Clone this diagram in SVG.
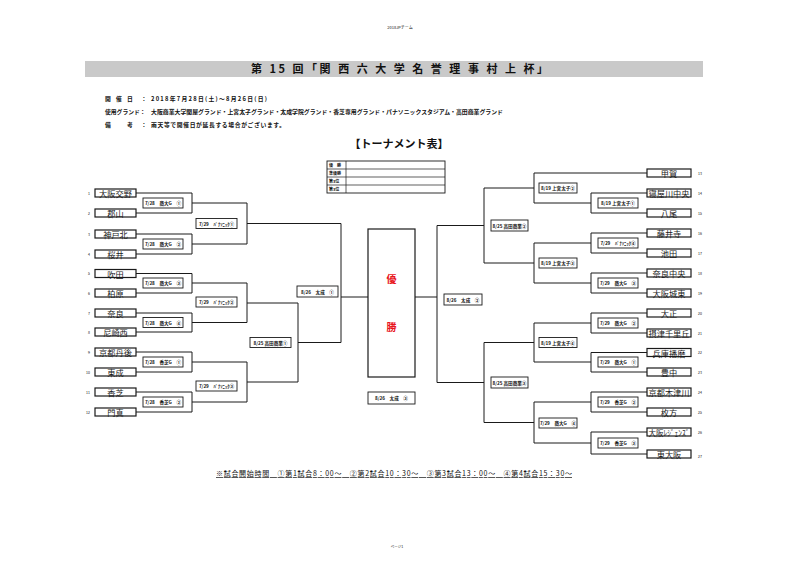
<svg xmlns="http://www.w3.org/2000/svg" width="800" height="564" viewBox="0 0 800 564">
<style>
text{font-family:"Noto Sans CJK JP","Noto Sans",sans-serif;fill:#111}
.b{font-weight:700}
.team rect{fill:#fff;stroke:#1a1a1a;stroke-width:1.2}
.team text{font-size:8.2px;text-anchor:middle;dominant-baseline:central;fill:#1a1a1a}
.num{font-size:3.5px;fill:#333;dominant-baseline:central}
.lbl rect{fill:#fff;stroke:#1a1a1a;stroke-width:0.9}
.lbl text{font-size:4.6px;text-anchor:middle;dominant-baseline:central;font-weight:700}
#connectors path{fill:none;stroke:#1a1a1a;stroke-width:1}
.info{font-size:5.8px;font-weight:700}
.res text{font-size:4px;font-weight:700;dominant-baseline:central}
</style>
<rect width="800" height="564" fill="#fff"/>

<text x="400" y="29" font-size="4" text-anchor="middle" fill="#444">2018JPチーム</text>
<rect x="85" y="61" width="618" height="16" fill="#c9c9c9"/>
<text class="b" x="251" y="73" font-size="11" textLength="297" lengthAdjust="spacing">第 15 回「関 西 六 大 学 名 誉 理 事 村 上 杯」</text>

<g class="info">
<text x="105" y="101">開</text><text x="116" y="101">催</text><text x="127" y="101">日</text><text x="141" y="101">：</text>
<text x="151" y="101" textLength="116" lengthAdjust="spacing">2018年7月28日(土)～8月26日(日)</text>
<text x="105" y="114">使用グランド：</text>
<text x="151" y="114" textLength="352" lengthAdjust="spacingAndGlyphs">大阪商業大学関屋グランド・上宮太子グランド・太成学院グランド・香芝専用グランド・パナソニックスタジアム・高田商業グランド</text>
<text x="105" y="127">備</text><text x="127" y="127">考</text><text x="141" y="127">：</text>
<text x="151" y="127" textLength="134" lengthAdjust="spacing">雨天等で開催日が延長する場合がございます。</text>
</g>

<text class="b" x="399" y="148" font-size="11" text-anchor="middle">【トーナメント表】</text>

<g id="results" class="res">
<rect x="327" y="161" width="118" height="32" fill="#fff" stroke="#1a1a1a" stroke-width="0.9"/>
<path d="M327 169H445M327 177H445M327 185H445M346 161V193" stroke="#1a1a1a" stroke-width="0.7" fill="none"/>
<text x="329" y="165">優　勝</text>
<text x="329" y="173">準優勝</text>
<text x="329" y="181">第3位</text>
<text x="329" y="189">第3位</text>
</g>

<g id="connectors">
<path d="M136 193H192V213H136M192 203H247"/>
<path d="M136 234H192V254H136M192 244H247"/>
<path d="M136 273.5H192V293H136M192 283H247"/>
<path d="M136 313H192V332H136M192 322.5H247"/>
<path d="M136 352H192V372H136M192 362H247"/>
<path d="M136 392H192V412H136M192 402H247"/>
<path d="M247 203V244M247 223.5H341"/>
<path d="M247 283V322.5M247 303H298"/>
<path d="M247 362V402M247 382H298"/>
<path d="M298 303V382M298 342.5H341"/>
<path d="M341 223.5V342.5M341 297H368"/>
<path d="M647 173H534"/>
<path d="M647 193H591V213H647M591 203H534"/>
<path d="M647 233H591V253H647M591 243H534"/>
<path d="M647 273H591V293H647M591 283H534"/>
<path d="M647 313H591V333H647M591 323H534"/>
<path d="M647 352.5H591V372H647M591 362H534"/>
<path d="M647 392H591V412H647M591 402H534"/>
<path d="M647 432H591V454H647M591 443H534"/>
<path d="M534 173V203M534 188H484"/>
<path d="M534 243V283M534 263H484"/>
<path d="M534 323V362M534 342.5H484"/>
<path d="M534 402V443M534 422.5H484"/>
<path d="M484 188V263M484 225.5H437"/>
<path d="M484 342.5V422.5M484 382.5H437"/>
<path d="M437 225.5V382.5M437 297H415"/>
</g>

<g id="champion">
<rect x="368" y="229" width="47" height="148" fill="#fff" stroke="#1a1a1a" stroke-width="1.2"/>
<text x="391.5" y="283" font-size="10" font-weight="700" text-anchor="middle" style="fill:#e8141b">優</text>
<text x="391.5" y="331" font-size="10" font-weight="700" text-anchor="middle" style="fill:#e8141b">勝</text>
</g>

<g id="team1" class="team"><rect x="95" y="189" width="41" height="8"/><text x="115.5" y="193">大阪交野</text></g>
<g id="team2" class="team"><rect x="95" y="209" width="41" height="8"/><text x="115.5" y="213">郡山</text></g>
<g id="team3" class="team"><rect x="95" y="230" width="41" height="8"/><text x="115.5" y="234">神戸北</text></g>
<g id="team4" class="team"><rect x="95" y="250" width="41" height="8"/><text x="115.5" y="254">桜井</text></g>
<g id="team5" class="team"><rect x="95" y="269.5" width="41" height="8"/><text x="115.5" y="273.5">吹田</text></g>
<g id="team6" class="team"><rect x="95" y="289" width="41" height="8"/><text x="115.5" y="293">柏原</text></g>
<g id="team7" class="team"><rect x="95" y="309" width="41" height="8"/><text x="115.5" y="313">奈良</text></g>
<g id="team8" class="team"><rect x="95" y="328" width="41" height="8"/><text x="115.5" y="332">尼崎西</text></g>
<g id="team9" class="team"><rect x="95" y="348" width="41" height="8"/><text x="115.5" y="352">京都丹後</text></g>
<g id="team10" class="team"><rect x="95" y="368" width="41" height="8"/><text x="115.5" y="372">東成</text></g>
<g id="team11" class="team"><rect x="95" y="388" width="41" height="8"/><text x="115.5" y="392">香芝</text></g>
<g id="team12" class="team"><rect x="95" y="408" width="41" height="8"/><text x="115.5" y="412">門真</text></g>

<g id="team13" class="team"><rect x="647" y="169" width="44" height="8"/><text x="669" y="173">甲賀</text></g>
<g id="team14" class="team"><rect x="647" y="189" width="44" height="8"/><text x="669" y="193">寝屋川中央</text></g>
<g id="team15" class="team"><rect x="647" y="209" width="44" height="8"/><text x="669" y="213">八尾</text></g>
<g id="team16" class="team"><rect x="647" y="229" width="44" height="8"/><text x="669" y="233">藤井寺</text></g>
<g id="team17" class="team"><rect x="647" y="249" width="44" height="8"/><text x="669" y="253">池田</text></g>
<g id="team18" class="team"><rect x="647" y="269" width="44" height="8"/><text x="669" y="273">奈良中央</text></g>
<g id="team19" class="team"><rect x="647" y="289" width="44" height="8"/><text x="669" y="293">大阪城東</text></g>
<g id="team20" class="team"><rect x="647" y="309" width="44" height="8"/><text x="669" y="313">大正</text></g>
<g id="team21" class="team"><rect x="647" y="329" width="44" height="8"/><text x="669" y="333">摂津千里丘</text></g>
<g id="team22" class="team"><rect x="647" y="348.5" width="44" height="8"/><text x="669" y="352.5">兵庫播磨</text></g>
<g id="team23" class="team"><rect x="647" y="368" width="44" height="8"/><text x="669" y="372">豊中</text></g>
<g id="team24" class="team"><rect x="647" y="388" width="44" height="8"/><text x="669" y="392">京都木津川</text></g>
<g id="team25" class="team"><rect x="647" y="408" width="44" height="8"/><text x="669" y="412">枚方</text></g>
<g id="team26" class="team"><rect x="647" y="428" width="44" height="8"/><text x="669" y="432" textLength="41" lengthAdjust="spacingAndGlyphs">大阪ﾚｼﾞｪﾝｽﾞ</text></g>
<g id="team27" class="team"><rect x="647" y="450" width="44" height="8"/><text x="669" y="454">東大阪</text></g>

<g id="numbers" class="num">
<text x="90" y="193" text-anchor="end">1</text>
<text x="90" y="213" text-anchor="end">2</text>
<text x="90" y="234" text-anchor="end">3</text>
<text x="90" y="254" text-anchor="end">4</text>
<text x="90" y="273.5" text-anchor="end">5</text>
<text x="90" y="293" text-anchor="end">6</text>
<text x="90" y="313" text-anchor="end">7</text>
<text x="90" y="332" text-anchor="end">8</text>
<text x="90" y="352" text-anchor="end">9</text>
<text x="90" y="372" text-anchor="end">10</text>
<text x="90" y="392" text-anchor="end">11</text>
<text x="90" y="412" text-anchor="end">12</text>
<text x="698" y="173">13</text>
<text x="698" y="193">14</text>
<text x="698" y="213">15</text>
<text x="698" y="233">16</text>
<text x="698" y="253">17</text>
<text x="698" y="273">18</text>
<text x="698" y="293">19</text>
<text x="698" y="313">20</text>
<text x="698" y="333">21</text>
<text x="698" y="352.5">22</text>
<text x="698" y="372">23</text>
<text x="698" y="392">24</text>
<text x="698" y="412">25</text>
<text x="698" y="432">26</text>
<text x="698" y="456">27</text>
</g>

<g id="m1" class="lbl"><rect x="143" y="198" width="40" height="10"/><text x="163" y="203">7/28　商大G　①</text></g>
<g id="m2" class="lbl"><rect x="143" y="239" width="40" height="10"/><text x="163" y="244">7/28　商大G　②</text></g>
<g id="m3" class="lbl"><rect x="143" y="278" width="40" height="10"/><text x="163" y="283">7/28　商大G　③</text></g>
<g id="m4" class="lbl"><rect x="143" y="317.5" width="40" height="10"/><text x="163" y="322.5">7/28　商大G　④</text></g>
<g id="m5" class="lbl"><rect x="143" y="357" width="40" height="10"/><text x="163" y="362">7/28　香芝G　①</text></g>
<g id="m6" class="lbl"><rect x="143" y="397" width="40" height="10"/><text x="163" y="402">7/28　香芝G　②</text></g>
<g id="m7" class="lbl"><rect x="196" y="218.5" width="41" height="10"/><text x="216.5" y="223.5">7/29　ﾊﾟﾅｿﾆｯｸ①</text></g>
<g id="m8" class="lbl"><rect x="196" y="297" width="41" height="10"/><text x="216.5" y="302">7/29　ﾊﾟﾅｿﾆｯｸ②</text></g>
<g id="m9" class="lbl"><rect x="196" y="381" width="41" height="10"/><text x="216.5" y="386">7/29　ﾊﾟﾅｿﾆｯｸ③</text></g>
<g id="m10" class="lbl"><rect x="250" y="337.5" width="41" height="10"/><text x="270.5" y="342.5">8/25 高田商業①</text></g>
<g id="m11" class="lbl"><rect x="297" y="286" width="41" height="11"/><text x="317.5" y="291.5">8/26　太成　①</text></g>
<g id="m12" class="lbl"><rect x="368" y="392" width="47" height="12"/><text x="391.5" y="398">8/26　太成　③</text></g>

<g id="m13" class="lbl"><rect x="598" y="198" width="40" height="10"/><text x="618" y="203">8/19 上宮太子①</text></g>
<g id="m14" class="lbl"><rect x="598" y="238" width="40" height="10"/><text x="618" y="243">7/29　ﾊﾟﾅｿﾆｯｸ④</text></g>
<g id="m15" class="lbl"><rect x="598" y="278" width="40" height="10"/><text x="618" y="283">7/29　商大G　③</text></g>
<g id="m16" class="lbl"><rect x="598" y="318" width="40" height="10"/><text x="618" y="323">7/29　商大G　②</text></g>
<g id="m17" class="lbl"><rect x="598" y="357" width="40" height="10"/><text x="618" y="362">7/29　商大G　①</text></g>
<g id="m18" class="lbl"><rect x="598" y="397" width="40" height="10"/><text x="618" y="402">7/29　香芝G　②</text></g>
<g id="m19" class="lbl"><rect x="598" y="438" width="40" height="10"/><text x="618" y="443">7/29　香芝G　③</text></g>
<g id="m20" class="lbl"><rect x="539" y="183" width="38" height="10"/><text x="558" y="188">8/19 上宮太子②</text></g>
<g id="m21" class="lbl"><rect x="539" y="258" width="38" height="10"/><text x="558" y="263">8/19 上宮太子③</text></g>
<g id="m22" class="lbl"><rect x="539" y="337.5" width="38" height="10"/><text x="558" y="342.5">8/19 上宮太子④</text></g>
<g id="m23" class="lbl"><rect x="539" y="418" width="38" height="10"/><text x="558" y="423">7/29　商大G　④</text></g>
<g id="m24" class="lbl"><rect x="491" y="220" width="37" height="11"/><text x="509.5" y="225.5">8/25 高田商業②</text></g>
<g id="m25" class="lbl"><rect x="491" y="377" width="37" height="11"/><text x="509.5" y="382.5">8/25 高田商業③</text></g>
<g id="m26" class="lbl"><rect x="444" y="294" width="38" height="11"/><text x="463" y="299.5">8/26　太成　②</text></g>

<text x="216" y="476" font-size="7" textLength="356" lengthAdjust="spacing" text-decoration="underline">※試合開始時間　①第1試合8：00～　②第2試合10：30～　③第3試合13：00～　④第4試合15：30～</text>
<text x="397" y="548" font-size="3.5" text-anchor="middle" fill="#555">ページ1</text>
</svg>
